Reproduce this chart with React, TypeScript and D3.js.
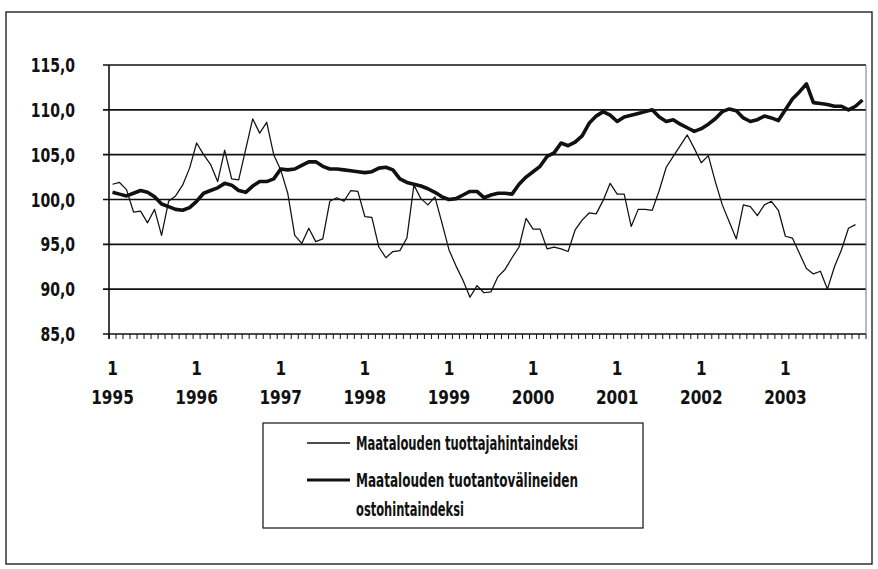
import React from 'react';
import * as d3 from 'd3';

const years = ['1995', '1996', '1997', '1998', '1999', '2000', '2001', '2002', '2003'];
const months = years.flatMap((y) => ['1', '2', '3', '4', '5', '6', '7', '8', '9', '10', '11', '12'].map((m) => `${y}-${m}`));

// Maatalouden tuottajahintaindeksi (thin line), Jan 1995 – Nov 2003
const producerIndex = [
  101.7, 101.9, 101.1, 98.6, 98.7, 97.4, 98.9, 96.0, 99.8, 100.4, 101.6, 103.5,
  106.3, 105.0, 103.9, 102.0, 105.5, 102.3, 102.2, 105.6, 109.0, 107.4, 108.6, 105.0,
  103.3, 100.7, 96.0, 95.1, 96.8, 95.3, 95.6, 99.8, 100.2, 99.8, 101.0, 100.9,
  98.1, 98.0, 94.7, 93.5, 94.2, 94.3, 95.7, 101.6, 100.1, 99.4, 100.3, 97.4,
  94.4, 92.6, 91.0, 89.1, 90.4, 89.6, 89.7, 91.4, 92.2, 93.5, 94.7, 97.9,
  96.7, 96.7, 94.5, 94.7, 94.5, 94.2, 96.6, 97.7, 98.5, 98.4, 99.9, 101.8,
  100.6, 100.6, 97.0, 98.9, 98.9, 98.8, 101.0, 103.6, 104.8, 106.0, 107.2, 105.7,
  104.1, 104.9, 102.0, 99.4, 97.5, 95.6, 99.4, 99.2, 98.2, 99.4, 99.8, 98.8,
  95.9, 95.7, 94.0, 92.3, 91.7, 92.0, 90.0, 92.5, 94.4, 96.8, 97.2,
];

// Maatalouden tuotantovälineiden ostohintaindeksi (thick line), Jan 1995 – Dec 2003
const purchaseIndex = [
  100.8, 100.6, 100.4, 100.7, 101.0, 100.8, 100.3, 99.5, 99.2, 98.9, 98.8, 99.1,
  99.8, 100.7, 101.0, 101.3, 101.8, 101.6, 101.0, 100.8, 101.5, 102.0, 102.0, 102.3,
  103.4, 103.3, 103.4, 103.8, 104.2, 104.2, 103.7, 103.4, 103.4, 103.3, 103.2, 103.1,
  103.0, 103.1, 103.5, 103.6, 103.3, 102.3, 101.9, 101.7, 101.5, 101.2, 100.8, 100.3,
  100.0, 100.1, 100.5, 100.9, 100.9, 100.2, 100.5, 100.7, 100.7, 100.6, 101.7, 102.5,
  103.1, 103.7, 104.8, 105.2, 106.3, 106.0, 106.4, 107.1, 108.5, 109.3, 109.8, 109.4,
  108.7, 109.2, 109.4, 109.6, 109.8, 110.0, 109.2, 108.7, 108.9, 108.4, 108.0, 107.6,
  107.9, 108.4, 109.0, 109.8, 110.1, 109.9, 109.1, 108.7, 108.9, 109.3, 109.1, 108.8,
  110.0, 111.2, 112.0, 112.9, 110.8, 110.7, 110.6, 110.4, 110.4, 110.0, 110.4, 111.1,
];

const yTicks = [85, 90, 95, 100, 105, 110, 115];
const legendLabels = ['Maatalouden tuottajahintaindeksi', 'Maatalouden tuotantovälineiden', 'ostohintaindeksi'];

const W = 878;
const H = 569;
const plot = { left: 109, right: 866, top: 65, bottom: 334 };
const FONT = "'DejaVu Sans Condensed', 'DejaVu Sans', sans-serif";

const fiLocale = d3.formatLocale({ decimal: ',', thousands: ' ', grouping: [3], currency: ['', ''] });
const fmt = fiLocale.format('.1f');

export default function App() {
  const x = d3.scaleBand<string>().domain(months).range([plot.left, plot.right]);
  const bw = x.bandwidth();
  const cx = (m: string) => (x(m) as number) + bw / 2;
  const y = d3.scaleLinear().domain([85, 115]).range([plot.bottom, plot.top]);

  const line = d3
    .line<number>()
    .x((_, i) => cx(months[i]))
    .y((d) => y(d));

  const tickXs = months.map((m) => x(m) as number).concat([plot.right]);

  const legendRows = [
    { text: legendLabels[0], y: 450, len: 222 },
    { text: legendLabels[1], y: 487, len: 222 },
    { text: legendLabels[2], y: 516, len: 108 },
  ];

  return (
    <svg
      width={W}
      height={H}
      style={{ position: 'absolute', left: 0, top: 0, background: '#fff' }}
      xmlns="http://www.w3.org/2000/svg"
    >
      <rect x={0} y={0} width={W} height={H} fill="#fff" />
      {/* outer frame */}
      <rect x={6} y={12} width={866} height={552} fill="none" stroke="#111" strokeWidth={1.3} />

      {/* gridlines */}
      {yTicks.map((t) => (
        <line key={t} x1={plot.left - 6} x2={plot.right} y1={y(t)} y2={y(t)} stroke="#111" strokeWidth={1.6} />
      ))}
      {/* plot right border */}
      <line x1={plot.right} x2={plot.right} y1={plot.top} y2={plot.bottom} stroke="#777" strokeWidth={1} />
      {/* y axis */}
      <line x1={plot.left} x2={plot.left} y1={plot.top} y2={plot.bottom + 5} stroke="#111" strokeWidth={1.6} />

      {/* month ticks */}
      {tickXs.map((tx, i) => (
        <line key={i} x1={tx} x2={tx} y1={plot.bottom} y2={plot.bottom + 5} stroke="#111" strokeWidth={1} />
      ))}

      {/* y labels */}
      {yTicks.map((t) => (
        <text
          key={t}
          transform={`translate(75,${y(t) + 7}) scale(0.78,1)`}
          textAnchor="end"
          fontFamily={FONT}
          fontWeight="bold"
          fontSize={20}
          fill="#111"
        >
          {fmt(t)}
        </text>
      ))}

      {/* x labels */}
      {years.map((yr) => {
        const px = cx(`${yr}-1`);
        return (
          <g key={yr}>
            <text
              transform={`translate(${px},375) scale(0.85,1)`}
              textAnchor="middle"
              fontFamily={FONT}
              fontWeight="bold"
              fontSize={20}
              fill="#111"
            >
              1
            </text>
            <text
              transform={`translate(${px},404) scale(0.85,1)`}
              textAnchor="middle"
              fontFamily={FONT}
              fontWeight="bold"
              fontSize={20}
              fill="#111"
            >
              {yr}
            </text>
          </g>
        );
      })}

      {/* series */}
      <path d={line(producerIndex) || ''} fill="none" stroke="#111" strokeWidth={1.25} strokeLinejoin="round" />
      <path d={line(purchaseIndex) || ''} fill="none" stroke="#111" strokeWidth={3.6} strokeLinejoin="round" />

      {/* legend */}
      <rect x={263} y={423} width={380} height={105} fill="#fff" stroke="#111" strokeWidth={1.2} />
      <line x1={307} x2={350} y1={443} y2={443} stroke="#111" strokeWidth={1.3} />
      <line x1={307} x2={350} y1={480} y2={480} stroke="#111" strokeWidth={3} />
      {legendRows.map((r) => (
        <text
          key={r.text}
          x={356}
          y={r.y}
          textLength={r.len}
          lengthAdjust="spacingAndGlyphs"
          fontFamily={FONT}
          fontSize={20}
          fontWeight="bold"
          fill="#111"
        >
          {r.text}
        </text>
      ))}
    </svg>
  );
}
